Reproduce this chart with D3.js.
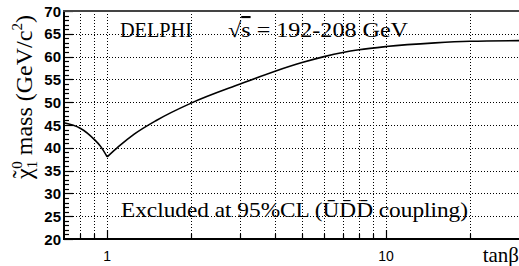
<!DOCTYPE html>
<html>
<head>
<meta charset="utf-8">
<script src="https://cdn.jsdelivr.net/npm/d3@7"></script>
<style>
  html, body { margin: 0; padding: 0; background: #fff; }
  svg { display: block; }
</style>
</head>
<body>
<svg id="chart" width="519" height="266"></svg>
<script>
/* ---------- data ---------- */
// falling branch, tanβ < 1
const tanBetaLow = [0.7, 0.75, 0.8, 0.9, 0.95, 1.0];
const massLow = [45.5, 45.0, 44.3, 41.8, 40.2, 38.0];
// rising branch, tanβ >= 1
const tanBetaHigh = [1.0, 1.1, 1.25, 1.5, 2, 3, 4, 5, 6, 7, 8, 10, 15, 20, 30];
const massHigh = [38.0, 40.3, 43.0, 46.0, 49.8, 54.0, 56.8, 58.7, 60.0, 60.9, 61.5, 62.2, 63.0, 63.35, 63.5];

const yTicks = [20, 25, 30, 35, 40, 45, 50, 55, 60, 65, 70];
const xGrid = [0.8, 0.9, 1, 2, 3, 4, 5, 6, 7, 8, 9, 10, 20];
const xLabels = [1, 10];

/* ---------- layout ---------- */
const svg = d3.select('#chart');
const m = { l: 64, r: 519, t: 11, b: 239 };
const x = d3.scaleLog().domain([0.7, 30]).range([m.l, m.r]);
const y = d3.scaleLinear().domain([20, 70]).range([m.b, m.t]);
const serif = '"Liberation Serif", "Times New Roman", serif';
const sans = '"Liberation Sans", Arial, sans-serif';
const px = v => Math.round(v) + 0.5;

// grid
const grid = svg.append('g').attr('stroke', '#000').attr('stroke-width', 1)
  .attr('stroke-dasharray', '1,2');
xGrid.forEach(v => {
  grid.append('line').attr('x1', px(x(v))).attr('x2', px(x(v))).attr('y1', m.t).attr('y2', m.b);
});
yTicks.filter(v => v > 20 && v < 70).forEach(v => {
  grid.append('line').attr('x1', m.l).attr('x2', m.r).attr('y1', px(y(v))).attr('y2', px(y(v)));
});

// axis ticks (inward)
const ticks = svg.append('g').attr('stroke', '#000').attr('stroke-width', 1.2);
d3.range(20, 71, 1).forEach(v => {
  const len = v % 5 === 0 ? 9 : 5;
  ticks.append('line').attr('x1', m.l).attr('x2', m.l + len).attr('y1', px(y(v))).attr('y2', px(y(v)));
});
xGrid.forEach(v => {
  const len = (v === 1 || v === 10) ? 9 : 5;
  ticks.append('line').attr('x1', px(x(v))).attr('x2', px(x(v))).attr('y1', m.b).attr('y2', m.b - len);
});

// frame: left, bottom, top (no right side)
svg.append('line').attr('x1', m.l).attr('x2', m.l).attr('y1', m.t - 1).attr('y2', m.b + 1)
  .attr('stroke', '#000').attr('stroke-width', 2);
svg.append('line').attr('x1', m.l - 1).attr('x2', m.r).attr('y1', m.b).attr('y2', m.b)
  .attr('stroke', '#000').attr('stroke-width', 2);
svg.append('line').attr('x1', m.l - 1).attr('x2', m.r).attr('y1', m.t).attr('y2', m.t)
  .attr('stroke', '#444').attr('stroke-width', 2);

// curve: two branches so the cusp at tanβ = 1 stays sharp
const line = d3.line().x(d => x(d[0])).y(d => y(d[1])).curve(d3.curveMonotoneX);
[[tanBetaLow, massLow], [tanBetaHigh, massHigh]].forEach(([xs, ys]) => {
  svg.append('path').attr('d', line(d3.zip(xs, ys)))
    .attr('fill', 'none').attr('stroke', '#000').attr('stroke-width', 1.6)
    .attr('stroke-linejoin', 'round');
});

// tick labels
yTicks.forEach(v => {
  svg.append('text').attr('x', 61).attr('y', y(v) + 5.5).attr('text-anchor', 'end')
    .attr('font-family', sans).attr('font-weight', 'bold').attr('font-size', 15)
    .text(v);
});
xLabels.forEach(v => {
  svg.append('text').attr('x', x(v)).attr('y', 261).attr('text-anchor', 'middle')
    .attr('font-family', sans).attr('font-size', 14).text(v);
});

// axis titles
svg.append('text').attr('x', 519).attr('y', 262).attr('text-anchor', 'end')
  .attr('font-family', serif).attr('font-size', 21).text('tanβ');

const yl = svg.append('text').attr('transform', 'translate(32,97) rotate(-90)')
  .attr('text-anchor', 'middle').attr('font-family', serif).attr('font-size', 24);
yl.append('tspan').text('χ');
yl.append('tspan').attr('dx', -10).attr('dy', -3).text('˜');
yl.append('tspan').attr('font-size', 15).attr('dx', 2).attr('dy', 8).text('1');
yl.append('tspan').attr('font-size', 15).attr('dx', -8).attr('dy', -15).text('0');
yl.append('tspan').attr('dy', 10).text(' mass (GeV/c');
yl.append('tspan').attr('font-size', 15).attr('dy', -10).text('2');
yl.append('tspan').attr('dy', 10).text(')');

// annotations
svg.append('text').attr('x', 120).attr('y', 37).attr('font-family', serif).attr('font-size', 21)
  .attr('textLength', 72).attr('lengthAdjust', 'spacingAndGlyphs').text('DELPHI');
const rs = svg.append('text').attr('x', 228).attr('y', 37).attr('font-family', serif).attr('font-size', 21)
  .attr('textLength', 180).attr('lengthAdjust', 'spacingAndGlyphs');
rs.append('tspan').text('√');
rs.append('tspan').attr('text-decoration', 'overline').text('s');
rs.append('tspan').text(' = 192-208 GeV');

svg.append('text').attr('x', 121).attr('y', 217).attr('font-family', serif).attr('font-size', 21)
  .attr('textLength', 347).attr('lengthAdjust', 'spacingAndGlyphs')
  .text('Excluded at 95%CL (\u016AD\u0304D\u0304 coupling)');
</script>
</body>
</html>
